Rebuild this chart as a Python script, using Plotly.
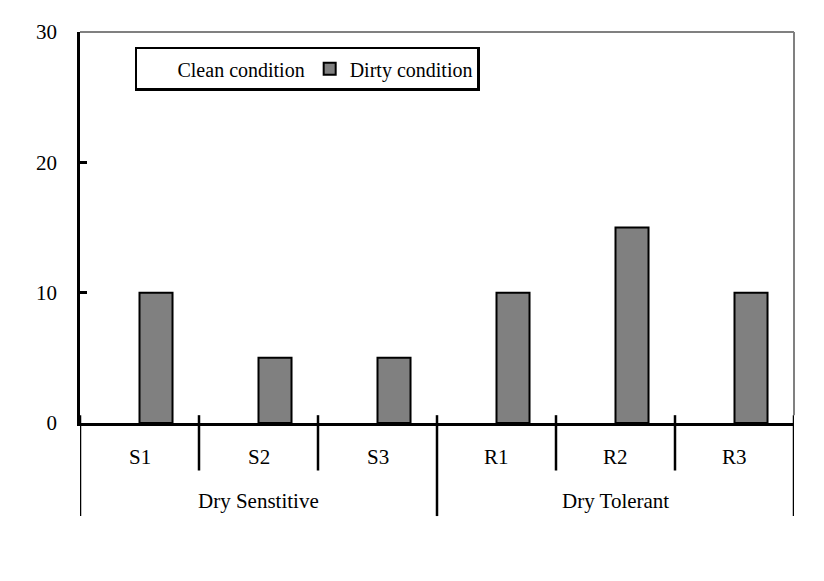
import plotly.graph_objects as go

categories = ["S1", "S2", "S3", "R1", "R2", "R3"]
groups = ["Dry Senstitive", "Dry Tolerant"]
group_members = [["S1", "S2", "S3"], ["R1", "R2", "R3"]]
clean_values = [0, 0, 0, 0, 0, 0]
dirty_values = [10, 5, 5, 10, 15, 10]
y_ticks = [0, 10, 20, 30]

FONT = "Liberation Serif"

fig = go.Figure()
fig.add_trace(go.Bar(
    x=categories, y=clean_values, name="Clean condition",
    marker=dict(color="white", line=dict(color="white", width=0)),
))
fig.add_trace(go.Bar(
    x=categories, y=dirty_values, name="Dirty condition",
    marker=dict(color="#808080", line=dict(color="black", width=2)),
))

shapes = []
# plot frame: gray top and right
shapes.append(dict(type="line", xref="paper", yref="paper", x0=0, x1=1, y0=1, y1=1,
                   line=dict(color="#808080", width=2)))
shapes.append(dict(type="line", xref="paper", yref="paper", x0=1, x1=1, y0=0.02, y1=1,
                   line=dict(color="#808080", width=2)))

# category dividers
n = len(categories)
major_pos = [-0.5]
idx = 0
for members in group_members:
    idx += len(members)
    major_pos.append(idx - 0.5)
for i in range(n + 1):
    p = i - 0.5
    if p in major_pos:
        y0, y1 = 0.02, -0.238
    else:
        y0, y1 = 0.02, -0.1215
    shapes.append(dict(type="line", xref="x", yref="paper", x0=p, x1=p, y0=y0, y1=y1,
                       line=dict(color="black", width=2.5)))

annotations = []
for c in categories:
    annotations.append(dict(x=c, y=-0.086, xref="x", yref="paper", text=c, showarrow=False,
                            font=dict(family=FONT, size=21, color="black"), yanchor="middle"))
for g, members in zip(groups, group_members):
    centre = sum(categories.index(m) for m in members) / len(members)
    annotations.append(dict(x=centre, y=-0.2, xref="x", yref="paper", text=g, showarrow=False,
                            font=dict(family=FONT, size=21, color="black"), yanchor="middle"))

fig.update_layout(
    width=816, height=573,
    margin=dict(l=72, r=30, t=20, b=158),
    paper_bgcolor="white", plot_bgcolor="white",
    barmode="group", bargap=0.445, bargroupgap=0,
    font=dict(family=FONT, size=21, color="black"),
    showlegend=True,
    legend=dict(orientation="h", x=0.077, y=0.962, xanchor="left", yanchor="top",
                bordercolor="black", borderwidth=2.5, bgcolor="white",
                font=dict(family=FONT, size=20, color="black"),
                traceorder="normal", itemwidth=30),
    shapes=shapes, annotations=annotations,
    xaxis=dict(type="category", categoryorder="array", categoryarray=categories,
               range=[-0.5, n - 0.5], showticklabels=False, ticks="",
               showline=True, linecolor="black", linewidth=2.5, showgrid=False, zeroline=False,
               fixedrange=True),
    yaxis=dict(range=[0, 30], tickvals=y_ticks, ticks="inside", ticklen=7, tickwidth=2.5,
               tickcolor="black", showline=True, linecolor="black", linewidth=2.5,
               showgrid=False, zeroline=False, ticklabelstandoff=16,
               tickfont=dict(family=FONT, size=21, color="black")),
)

fig.write_html("out.html")
